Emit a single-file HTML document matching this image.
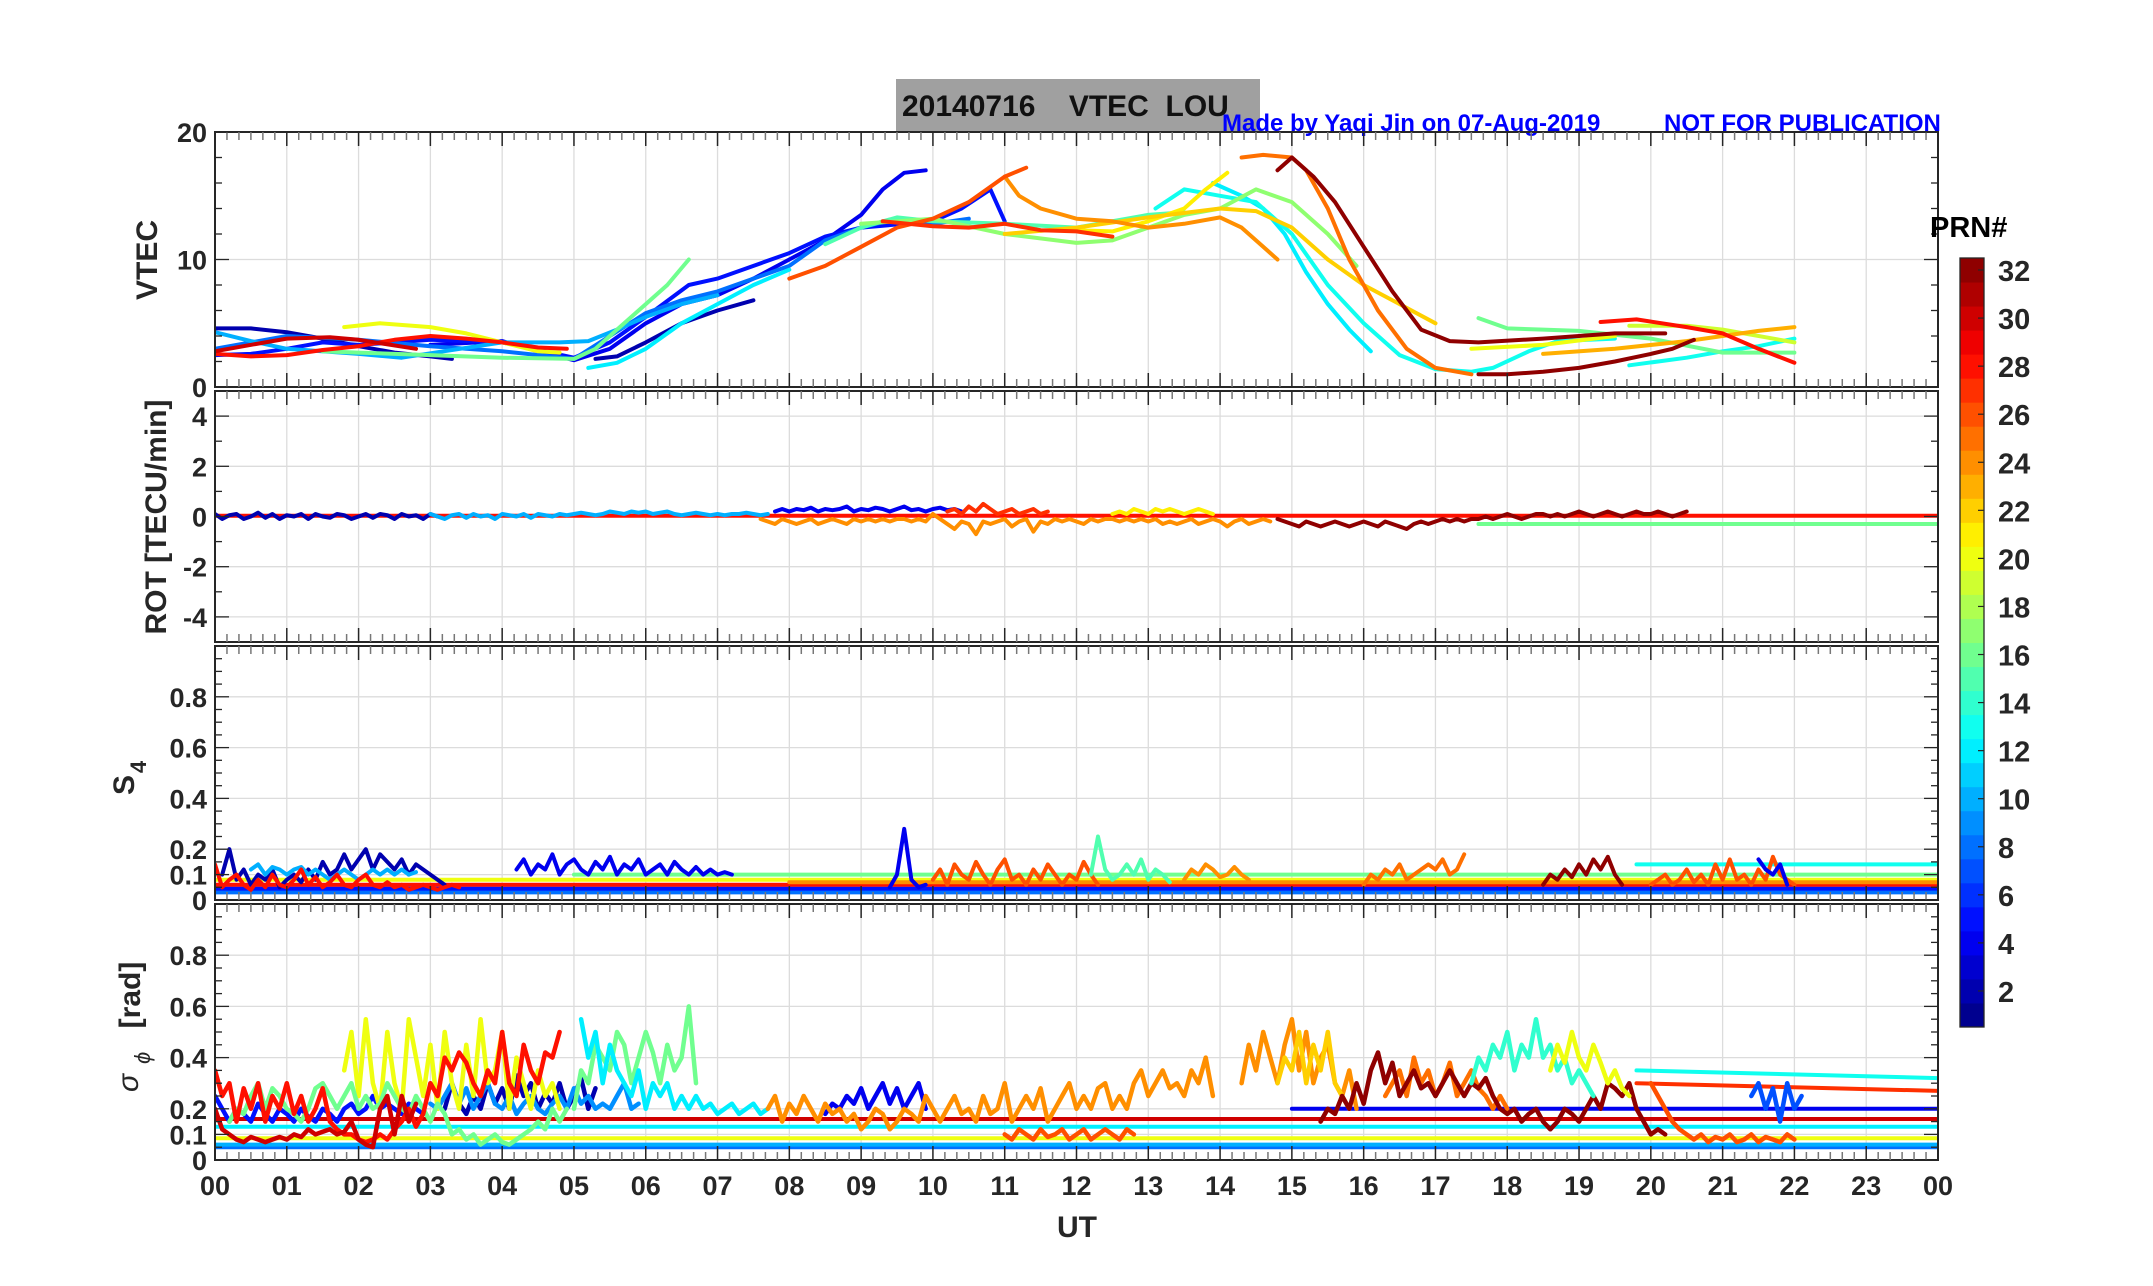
<!DOCTYPE html>
<html><head><meta charset="utf-8">
<style>
html,body{margin:0;padding:0;background:#fff;}
svg{display:block;font-family:"Liberation Sans",sans-serif;}
</style></head>
<body>
<svg id="fig" width="2153" height="1286" viewBox="0 0 2153 1286" xmlns="http://www.w3.org/2000/svg">
<rect x="0" y="0" width="2153" height="1286" fill="#fff"/>
<rect x="896" y="79" width="364" height="53" fill="#a0a0a0"/>
<text x="902" y="116" font-size="30" font-weight="bold" fill="#111" style="white-space:pre">20140716    VTEC  LOU</text>
<text x="1222" y="131" font-size="24" font-weight="bold" fill="#0000ff">Made by Yaqi Jin on 07-Aug-2019</text>
<text x="1664" y="131" font-size="24" font-weight="bold" fill="#0000ff">NOT FOR PUBLICATION</text>
<g id="plots"></g>
</svg>
<script>
// ---------- data ----------
const hourTicks = ["00","01","02","03","04","05","06","07","08","09","10","11","12","13","14","15","16","17","18","19","20","21","22","23","00"];
const vtecTicks = [0,10,20];
const rotTicks = [-4,-2,0,2,4];
const s4Ticks = [0,0.1,0.2,0.4,0.6,0.8];
const sigTicks = [0,0.1,0.2,0.4,0.6,0.8];
const cbTicks = [2,4,6,8,10,12,14,16,18,20,22,24,26,28,30,32];

const vtecSeries = [
 {prn:2, pts:[[0,4.6],[0.5,4.6],[1,4.3],[1.5,3.8],[2,3.2],[2.5,2.7],[3,2.4],[3.3,2.2]]},
 {prn:2, pts:[[5.3,2.2],[5.6,2.4],[6,3.5],[6.5,5],[7,6],[7.5,6.8]]},
 {prn:4, pts:[[3,3.3],[4,3.6],[4.5,2.8],[5,2.1],[5.5,3],[6,5],[6.5,6.5],[7,7.2],[7.5,8.5],[8,10],[8.5,11.5],[9,13.5],[9.3,15.5],[9.6,16.8],[9.9,17]]},
 {prn:5, pts:[[0,2.5],[0.5,2.6],[1,3],[1.5,3.5],[2,3.3],[2.5,3.5],[3,3.7],[4,3.5],[5,2.3],[5.5,3.5],[6,5.5],[6.6,8],[7,8.5],[8,10.5],[8.5,11.8],[9,12.5],[10,13],[10.4,14],[10.8,15.5],[11,13]]},
 {prn:8, pts:[[0,3],[0.5,3.5],[1,4],[2,3.7],[3,3.2],[4,2.8],[5,2.2],[5.5,4],[6,5.8],[6.5,6.8],[7,7.5],[8,9.5],[8.5,11.5],[9,12.5],[9.5,13.2],[10,12.8],[10.5,13.2]]},
 {prn:10, pts:[[0,4.3],[0.5,3.6],[1,3],[2,2.6],[2.6,2.3],[4,3.5],[4.8,3.5],[5.2,3.6],[5.6,4.5],[6,5.5],[6.5,6.5],[7,7.2]]},
 {prn:12, pts:[[5.2,1.5],[5.6,1.9],[6,3],[6.5,5],[7,6.5],[7.5,8],[8,9.2]]},
 {prn:12, pts:[[13.9,16],[14.3,15],[14.6,14],[14.9,12],[15.2,9],[15.5,6.5],[15.8,4.5],[16.1,2.8]]},
 {prn:13, pts:[[13.1,14],[13.5,15.5],[14,15],[14.5,14.5],[15,12],[15.5,8],[16,5],[16.5,2.5],[17,1.4],[17.5,1.2],[17.8,1.5],[18.3,2.8],[18.7,3.6],[19.5,3.8]]},
 {prn:13, pts:[[19.7,1.7],[20.5,2.3],[21,2.8],[21.5,3.2],[22,3.8]]},
 {prn:15, pts:[[8.5,11.2],[9,12.5],[9.5,13.3],[10,13],[11,12.8],[12,12.5],[13,13.5],[13.5,13.7]]},
 {prn:16, pts:[[1.5,2.8],[2,2.7],[3,2.5],[4,2.3],[5,2.2],[5.3,3],[5.6,4.5],[6,6.5],[6.3,8],[6.6,10]]},
 {prn:16, pts:[[17.6,5.4],[18,4.6],[18.5,4.5],[19,4.4],[20,3.8],[21,2.7],[22,2.7]]},
 {prn:17, pts:[[9,12.8],[10,13.2],[11,12],[12,11.3],[12.5,11.5],[13,12.5],[13.5,13.5],[14,14],[14.5,15.5],[15,14.5],[15.5,12],[15.9,9.5]]},
 {prn:19, pts:[[19.7,4.8],[20.5,4.8],[21,4.5],[22,3.5]]},
 {prn:20, pts:[[1.8,4.7],[2.3,5],[3,4.7],[3.5,4.2],[4,3.5],[4.5,2.8],[4.8,2.7]]},
 {prn:20, pts:[[17.5,3],[18.5,3.3],[19.5,4]]},
 {prn:21, pts:[[12,12.3],[12.5,12.2],[13,13],[13.5,14],[13.8,15.5],[14.1,16.8]]},
 {prn:22, pts:[[11,12],[12,12.5],[13,13.3],[14,14],[14.5,13.8],[15,12.5],[15.5,10],[16,8],[16.5,6.5],[17,5]]},
 {prn:23, pts:[[18.5,2.6],[19.5,3],[20.5,3.6],[21.5,4.4],[22,4.7]]},
 {prn:24, pts:[[11,16.5],[11.2,15],[11.5,14],[12,13.2],[12.5,13],[13,12.5],[13.5,12.8],[14,13.3],[14.3,12.5],[14.6,11],[14.8,10]]},
 {prn:25, pts:[[14.3,18],[14.6,18.2],[15,18],[15.2,17],[15.5,14],[15.8,10],[16.2,6],[16.6,3],[17,1.5],[17.5,1]]},
 {prn:26, pts:[[8,8.5],[8.5,9.5],[9,11],[9.5,12.5],[10,13.2],[10.5,14.5],[11,16.5],[11.3,17.2]]},
 {prn:27, pts:[[9.3,13],[10,12.6],[10.5,12.5],[11,12.8],[11.5,12.3],[12,12.2],[12.5,11.8]]},
 {prn:28, pts:[[0,2.6],[0.5,2.4],[1,2.5],[1.5,2.9],[2,3.2],[2.5,3.7],[3,4],[3.5,3.8],[4,3.5],[4.5,3.1],[4.9,3]]},
 {prn:28, pts:[[19.3,5.1],[19.8,5.3],[20.5,4.7],[21,4.2],[21.5,3],[22,1.9]]},
 {prn:30, pts:[[0,2.8],[0.6,3.4],[1,3.8],[1.6,3.9],[2,3.7],[2.8,3]]},
 {prn:32, pts:[[14.8,17],[15,18],[15.3,16.5],[15.6,14.5],[16,11],[16.4,7.5],[16.8,4.5],[17.2,3.6],[17.6,3.5],[18.5,3.8],[19.5,4.2],[20.2,4.2]]},
 {prn:32, pts:[[17.6,1],[18,1],[18.5,1.2],[19,1.5],[19.5,2],[20,2.6],[20.3,3],[20.6,3.7]]}
];

const rotSeries = [
 {prn:2, t0:0, vals:[0.1,-0.1,0.05,0.1,-0.1,0,0.15,-0.05,0.1,-0.1,0.05,0,0.1,-0.1,0.1,0,-0.05,0.1,0.05,-0.1,0,0.1,-0.05,0.1,0.05,-0.1,0.1,0,0.05,-0.1,0.1,0]},
 {prn:10, t0:3, vals:[0.1,0,-0.1,0.05,0.1,-0.05,0.1,0,0.05,-0.1,0.1,0.05,0,0.1,-0.05,0.1,0.05,0,0.1,0.05,0.1,0.15,0.1,0.05,0.1,0.2,0.15,0.1,0.2,0.15,0.2,0.1,0.15,0.2,0.1,0.05,0.1,0.15,0.1,0.05,0.1,0.05,0.1,0.1,0.15,0.1,0.05,0.1]},
 {prn:4, t0:7.8, vals:[0.2,0.3,0.2,0.3,0.25,0.35,0.2,0.3,0.25,0.3,0.4,0.2,0.3,0.25,0.35,0.3,0.2,0.3,0.4,0.25,0.3,0.2,0.3,0.35,0.25,0.3,0.2]},
 {prn:24, t0:7.6, vals:[-0.1,-0.2,-0.3,-0.1,-0.2,-0.3,-0.2,-0.1,-0.3,-0.2,-0.1,-0.2,-0.3,-0.1,-0.2,-0.1,-0.2,-0.1,-0.2,-0.1,-0.1,-0.2,-0.1,-0.2,0.1,-0.1,-0.3,-0.5,-0.2,-0.3,-0.7,-0.2,-0.3,-0.2,-0.1,-0.4,-0.2,-0.1,-0.6,-0.2,-0.3,-0.1,-0.2,-0.1,-0.2,-0.3,-0.1,-0.2,-0.1,-0.1,-0.2,-0.1,-0.2,-0.1,-0.2,-0.1,-0.3,-0.2,-0.3,-0.2,-0.1,-0.3,-0.2,-0.1,-0.2,-0.4,-0.2,-0.1,-0.3,-0.2,-0.1,-0.2]},
 {prn:27, t0:10.2, vals:[0.2,0.3,0.1,0.4,0.2,0.5,0.3,0.1,0.2,0.3,0.1,0.2,0.3,0.1,0.2]},
 {prn:21, t0:12.5, vals:[0.1,0.2,0.1,0.3,0.2,0.1,0.3,0.2,0.3,0.2,0.1,0.2,0.3,0.2,0.1]},
 {prn:32, t0:14.8, vals:[-0.1,-0.2,-0.3,-0.4,-0.2,-0.3,-0.4,-0.3,-0.2,-0.3,-0.4,-0.3,-0.2,-0.3,-0.4,-0.2,-0.3,-0.4,-0.5,-0.3,-0.2,-0.3,-0.2,-0.1,-0.2,-0.1,-0.2,-0.1,-0.1,0,-0.1,0,0.1,0,-0.1,0,0.1,0.1,0,0.1,0,0.1,0.2,0.1,0,0.1,0.2,0.1,0,0.1,0.2,0.1,0.1,0.2,0.1,0,0.1,0.2]}
];
const rotLines = [
 {prn:16, t0:17.6, t1:24, v0:-0.3, v1:-0.3},
 {prn:28, t0:0, t1:24, v0:0.03, v1:0.03}
];

const s4Lines = [
 {prn:8, t0:0, t1:24, v0:0.03, v1:0.03},
 {prn:5, t0:0, t1:24, v0:0.045, v1:0.045},
 {prn:28, t0:0, t1:24, v0:0.06, v1:0.06},
 {prn:20, t0:0, t1:24, v0:0.08, v1:0.08},
 {prn:24, t0:8, t1:24, v0:0.07, v1:0.07},
 {prn:16, t0:5, t1:24, v0:0.1, v1:0.1},
 {prn:13, t0:19.8, t1:24, v0:0.14, v1:0.14}
];
const s4Series = [
 {prn:2, t0:0.1, vals:[0.1,0.2,0.08,0.12,0.06,0.1,0.08,0.12,0.05,0.08,0.1,0.07,0.12,0.08,0.15,0.1,0.12,0.18,0.12,0.16,0.2,0.12,0.18,0.15,0.12,0.16,0.1,0.14,0.12,0.1,0.08,0.06]},
 {prn:4, t0:4.2, vals:[0.12,0.16,0.1,0.14,0.12,0.18,0.1,0.14,0.16,0.12,0.1,0.15,0.12,0.17,0.1,0.14,0.12,0.16,0.1,0.12,0.14,0.1,0.15,0.12,0.1,0.13,0.1,0.12,0.1,0.11,0.1]},
 {prn:10, t0:0.5, vals:[0.12,0.14,0.1,0.13,0.12,0.1,0.12,0.13,0.1,0.12,0.1,0.08,0.1,0.12,0.1,0.08,0.1,0.12,0.1,0.12,0.1,0.12,0.1,0.11]},
 {prn:4, t0:9.4, vals:[0.05,0.1,0.28,0.08,0.05,0.06]},
 {prn:28, t0:0, vals:[0.14,0.05,0.08,0.1,0.06,0.04,0.08,0.05,0.1,0.06,0.05,0.08,0.12,0.06,0.09,0.05,0.07,0.1,0.06,0.05,0.08,0.1,0.06,0.05,0.07,0.05,0.06,0.04,0.05,0.06,0.05,0.04,0.05,0.06,0.05]},
 {prn:26, t0:10, vals:[0.08,0.12,0.06,0.14,0.1,0.08,0.15,0.1,0.06,0.12,0.16,0.08,0.1,0.06,0.12,0.08,0.14,0.1,0.06,0.1,0.08,0.15,0.1,0.06]},
 {prn:15, t0:12.2, vals:[0.1,0.25,0.12,0.08,0.1,0.14,0.1,0.16,0.08,0.12,0.1,0.07]},
 {prn:24, t0:13.5, vals:[0.08,0.12,0.1,0.14,0.12,0.09,0.1,0.13,0.1,0.08]},
 {prn:25, t0:16, vals:[0.06,0.1,0.08,0.12,0.1,0.14,0.08,0.1,0.12,0.14,0.12,0.16,0.1,0.12,0.18]},
 {prn:32, t0:18.5, vals:[0.06,0.1,0.08,0.12,0.09,0.14,0.1,0.16,0.12,0.17,0.1,0.06]},
 {prn:26, t0:20, vals:[0.06,0.08,0.1,0.06,0.08,0.12,0.07,0.1,0.06,0.14,0.08,0.16,0.08,0.1,0.06,0.12,0.08,0.17,0.1,0.08,0.06]},
 {prn:4, t0:21.5, vals:[0.16,0.12,0.1,0.14,0.06]}
];

const sigLines = [
 {prn:8, t0:0, t1:24, v0:0.05, v1:0.05},
 {prn:10, t0:0, t1:24, v0:0.06, v1:0.06},
 {prn:20, t0:0, t1:24, v0:0.085, v1:0.085},
 {prn:12, t0:0, t1:24, v0:0.13, v1:0.13},
 {prn:30, t0:0, t1:24, v0:0.16, v1:0.16},
 {prn:4, t0:15, t1:24, v0:0.2, v1:0.2},
 {prn:13, t0:19.8, t1:24, v0:0.35, v1:0.32},
 {prn:27, t0:19.8, t1:24, v0:0.3, v1:0.27}
];
const sigSeries = [
 {prn:2, t0:3.2, vals:[0.2,0.3,0.22,0.18,0.25,0.2,0.3,0.22,0.28,0.2,0.33,0.25,0.3,0.2,0.26,0.22,0.3,0.2,0.25,0.32,0.2,0.28]},
 {prn:5, t0:0, vals:[0.25,0.2,0.15,0.2,0.18,0.15,0.22,0.18,0.15,0.2,0.18,0.15,0.2,0.17,0.15,0.2,0.18,0.15,0.2,0.22,0.18,0.2,0.25,0.2,0.22,0.2,0.18,0.22,0.2,0.18]},
 {prn:9, t0:3, vals:[0.22,0.2,0.25,0.3,0.22,0.28,0.2,0.25,0.3,0.22,0.2,0.25,0.18,0.22,0.25,0.2,0.18,0.22,0.25,0.2,0.28,0.22,0.25,0.2,0.22,0.2,0.25,0.3,0.2,0.22]},
 {prn:20, t0:1.8, vals:[0.35,0.5,0.25,0.55,0.3,0.2,0.5,0.3,0.2,0.55,0.4,0.25,0.45,0.2,0.5,0.3,0.2,0.45,0.25,0.55,0.3,0.35,0.5,0.2,0.4,0.3,0.2,0.35,0.25,0.3,0.2]},
 {prn:16, t0:0.2, vals:[0.15,0.2,0.18,0.25,0.3,0.2,0.28,0.25,0.2,0.18,0.15,0.2,0.28,0.3,0.25,0.2,0.25,0.3,0.2,0.25,0.2,0.22,0.3,0.25,0.2,0.18,0.25,0.2,0.15,0.22,0.18,0.1,0.12,0.08,0.1,0.06,0.08,0.1,0.07,0.06,0.08,0.1,0.12,0.15,0.12,0.2,0.15,0.2]},
 {prn:16, t0:5, vals:[0.2,0.35,0.3,0.45,0.4,0.35,0.5,0.45,0.3,0.4,0.5,0.42,0.3,0.45,0.35,0.4,0.6,0.3]},
 {prn:12, t0:5.1, vals:[0.55,0.4,0.5,0.3,0.45,0.35,0.3,0.25,0.35,0.2,0.3,0.25,0.3,0.2,0.25,0.2,0.25,0.2,0.22,0.18,0.2,0.22,0.18,0.2,0.22,0.18,0.2]},
 {prn:28, t0:0, vals:[0.35,0.25,0.3,0.15,0.28,0.2,0.3,0.15,0.25,0.2,0.3,0.18,0.25,0.15,0.2,0.28,0.15,0.12,0.1,0.1,0.08,0.07,0.08,0.1,0.08,0.12,0.15,0.2,0.13,0.18,0.3,0.25,0.4,0.35,0.42,0.38,0.3,0.25,0.35,0.3,0.5,0.3,0.25,0.45,0.35,0.3,0.42,0.4,0.5]},
 {prn:30, t0:0, vals:[0.2,0.12,0.1,0.08,0.07,0.09,0.08,0.07,0.08,0.09,0.08,0.1,0.09,0.12,0.1,0.11,0.12,0.1,0.11,0.15,0.08,0.06,0.05,0.2,0.25,0.1,0.25,0.15,0.22]},
 {prn:4, t0:8.5, vals:[0.18,0.22,0.2,0.25,0.22,0.28,0.2,0.25,0.3,0.22,0.28,0.2,0.25,0.3,0.2]},
 {prn:24, t0:7.7, vals:[0.2,0.25,0.15,0.22,0.18,0.25,0.2,0.15,0.22,0.18,0.2,0.15,0.18,0.12,0.15,0.2,0.18,0.12,0.15,0.2,0.18,0.15,0.25,0.2,0.15,0.2,0.25,0.18,0.2,0.15,0.25,0.18,0.2,0.3,0.15,0.2,0.25,0.2,0.28,0.15,0.2,0.25,0.3,0.2,0.25,0.2,0.28,0.3,0.2,0.25,0.2,0.3,0.35,0.25,0.3,0.35,0.28,0.3,0.25,0.35,0.3,0.4,0.25]},
 {prn:26, t0:11, vals:[0.1,0.08,0.12,0.1,0.08,0.12,0.09,0.1,0.12,0.08,0.1,0.12,0.08,0.1,0.12,0.1,0.08,0.12,0.1]},
 {prn:24, t0:14.3, vals:[0.3,0.45,0.35,0.5,0.4,0.3,0.45,0.55,0.35,0.5,0.3,0.4,0.45,0.3,0.25,0.35,0.2]},
 {prn:22, t0:14.8, vals:[0.3,0.4,0.35,0.5,0.3,0.45,0.35,0.5,0.3,0.25,0.2]},
 {prn:25, t0:16.3, vals:[0.25,0.3,0.35,0.25,0.4,0.3,0.35,0.25,0.3,0.38,0.25,0.3,0.35,0.28,0.25,0.2,0.25,0.2]},
 {prn:32, t0:15.4, vals:[0.15,0.2,0.18,0.25,0.2,0.3,0.22,0.35,0.42,0.3,0.38,0.25,0.3,0.35,0.28,0.3,0.25,0.3,0.35,0.3,0.25,0.3,0.28,0.32,0.25,0.2,0.18,0.2,0.15,0.18,0.2,0.15,0.12,0.15,0.2,0.18,0.15,0.2,0.25,0.2,0.3,0.28,0.25,0.3,0.2,0.15,0.1,0.12,0.1]},
 {prn:14, t0:17.5, vals:[0.3,0.4,0.35,0.45,0.4,0.5,0.35,0.45,0.4,0.55,0.4,0.45,0.35,0.4,0.3,0.35,0.3,0.25]},
 {prn:20, t0:18.6, vals:[0.35,0.45,0.38,0.5,0.4,0.35,0.45,0.38,0.3,0.35,0.28,0.25]},
 {prn:26, t0:20, vals:[0.3,0.25,0.2,0.15,0.12,0.1,0.08,0.1,0.07,0.09,0.08,0.1,0.07,0.08,0.1,0.07,0.09,0.08,0.07,0.1,0.08]},
 {prn:7, t0:21.4, vals:[0.25,0.3,0.2,0.28,0.15,0.3,0.2,0.25]}
];

// ---------- layout ----------
const L = 215, R = 1938;
const panels = [
 {name:"vtec", top:132, bot:387, min:0, max:20, ticks:vtecTicks, minor:2},
 {name:"rot", top:391, bot:642, min:-5, max:5, ticks:rotTicks, minor:1},
 {name:"s4", top:646, bot:900, min:0, max:1, ticks:s4Ticks, minor:0.05},
 {name:"sigma", top:904, bot:1160, min:0, max:1, ticks:sigTicks, minor:0.05}
];
const NS = "http://www.w3.org/2000/svg";
const root = document.getElementById("plots");
function mk(tag, attrs, parent){const e=document.createElementNS(NS,tag);for(const k in attrs)e.setAttribute(k,attrs[k]);(parent||root).appendChild(e);return e;}
const xs = h => L + (R-L)*h/24;
function ysFor(p){return v => p.bot - (p.bot-p.top)*(v-p.min)/(p.max-p.min);}
function jet(prn){const v=(prn-0.5)/32;const c=x=>Math.round(255*Math.max(0,Math.min(1,x)));
 return `rgb(${c(1.5-Math.abs(4*v-3))},${c(1.5-Math.abs(4*v-2))},${c(1.5-Math.abs(4*v-1))})`;}
function fmt(v){return String(v);}

const defs = mk("defs",{});
panels.forEach((p,i)=>{
 const cp = mk("clipPath",{id:"clip"+i},defs);
 mk("rect",{x:L,y:p.top,width:R-L,height:p.bot-p.top},cp);
 const ys = ysFor(p);
 const g = mk("g",{});
 
 
 for(let h=1;h<24;h++){const ln=mk("line",{x1:xs(h),x2:xs(h),y1:p.top,y2:p.bot,stroke:"#dcdcdc","stroke-width":1.3},g);
  }
 p.ticks.forEach(t=>{if(t>p.min&&t<p.max){const ln=mk("line",{x1:L,x2:R,y1:ys(t),y2:ys(t),stroke:"#dcdcdc","stroke-width":1.3},g);
  }});
 p.g = g; p.ys = ys;
 p.dg = mk("g",{"clip-path":"url(#clip"+i+")"},g);
 
 
});

function drawPath(p, pts, prn, w){
 const d = pts.map((q,i)=>(i?"L":"M")+xs(q[0]).toFixed(1)+","+p.ys(q[1]).toFixed(1)).join("");
 const e = mk("path",{d:d,fill:"none",stroke:jet(prn),"stroke-width":w,"stroke-linejoin":"round","stroke-linecap":"round"},p.dg);
 
 
}
function noisyPts(s){return s.vals.map((v,i)=>[s.t0+0.1*i, v]);}

vtecSeries.forEach(s=>drawPath(panels[0], s.pts, s.prn, 4));
rotLines.forEach(s=>drawPath(panels[1], [[s.t0,s.v0],[s.t1,s.v1]], s.prn, 4));
rotSeries.forEach(s=>drawPath(panels[1], noisyPts(s), s.prn, 4));
s4Lines.forEach(s=>drawPath(panels[2], [[s.t0,s.v0],[s.t1,s.v1]], s.prn, 4));
s4Series.forEach(s=>drawPath(panels[2], noisyPts(s), s.prn, 4));
sigLines.forEach(s=>drawPath(panels[3], [[s.t0,s.v0],[s.t1,s.v1]], s.prn, 4));
sigSeries.forEach(s=>drawPath(panels[3], noisyPts(s), s.prn, 4.5));

panels.forEach(p=>{
 const g=p.g, ys=p.ys;
 const fr=mk("rect",{x:L,y:p.top,width:R-L,height:p.bot-p.top,fill:"none",stroke:"#262626","stroke-width":2},g);
 
 for(let m=0;m<=144;m++){const h=m/6,x=xs(h),len=(m%6===0)?14:8,col=(m%6===0)?"#262626":"#777";
  mk("line",{x1:x,x2:x,y1:p.top,y2:p.top+len,stroke:col,"stroke-width":1.5},g);
  mk("line",{x1:x,x2:x,y1:p.bot,y2:p.bot-len,stroke:col,"stroke-width":1.5},g);}
 for(let v=p.min;v<=p.max+1e-9;v+=p.minor){const y=ys(v);const maj=p.ticks.some(t=>Math.abs(t-v)<1e-6);
  mk("line",{x1:L,x2:L+(maj?14:7),y1:y,y2:y,stroke:"#262626","stroke-width":1.3},g);
  mk("line",{x1:R,x2:R-(maj?14:7),y1:y,y2:y,stroke:"#262626","stroke-width":1.3},g);}
 p.ticks.forEach(t=>{const tx=mk("text",{x:L-8,y:ys(t)+10,"text-anchor":"end","font-size":27,"font-weight":"bold",fill:"#262626"},g);
  tx.textContent=fmt(t);});
});

function ylab(txt,x,y,name,fs){const t=mk("text",{x:0,y:0,transform:`translate(${x},${y}) rotate(-90)`,"text-anchor":"middle","font-size":fs||30,"font-weight":"bold",fill:"#262626"});t.textContent=txt;
 return t;}
ylab("VTEC",157,260,"vtec-axis-title");
ylab("ROT [TECU/min]",166,517,"rot-axis-title");
ylab("S",134,785,"s4-axis-title");
const s4s=mk("text",{x:0,y:0,transform:"translate(146,767) rotate(-90)","text-anchor":"middle","font-size":22,"font-weight":"bold",fill:"#262626"});s4s.textContent="4";

const sgt=mk("text",{x:0,y:0,transform:"translate(138,1092) rotate(-90)","font-size":30,"font-style":"italic",fill:"#262626"});sgt.textContent="σ";

const sgs=mk("text",{x:0,y:0,transform:"translate(150,1064) rotate(-90)","font-size":22,"font-style":"italic",fill:"#262626"});sgs.textContent="ϕ";

ylab("[rad]",140,995,"sigma-unit-title");

hourTicks.forEach((lab,i)=>{const t=mk("text",{x:xs(i),y:1195,"text-anchor":"middle","font-size":27,"font-weight":"bold",fill:"#262626"});t.textContent=lab;
 });
const ut=mk("text",{x:1077,y:1237,"text-anchor":"middle","font-size":30,"font-weight":"bold",fill:"#262626"});ut.textContent="UT";


const cbX=1960, cbW=24, cbTop=258, cbBot=1027;
const cb=mk("g",{});
const cbY = v => cbBot - (cbBot-cbTop)*(v-0.5)/32;
for(let k=1;k<=32;k++){mk("rect",{x:cbX,y:cbY(k+0.5),width:cbW,height:(cbBot-cbTop)/32+0.5,fill:jet(k)},cb);}
mk("rect",{x:cbX,y:cbTop,width:cbW,height:cbBot-cbTop,fill:"none",stroke:"#262626","stroke-width":1.3},cb);
cbTicks.forEach(v=>{const y=cbY(v);mk("line",{x1:cbX+cbW-6,x2:cbX+cbW,y1:y,y2:y,stroke:"#262626","stroke-width":1.2},cb);
 const t=mk("text",{x:1998,y:y+11,"font-size":29,"font-weight":"bold",fill:"#262626"},cb);t.textContent=v;
 });
const prnT=mk("text",{x:1930,y:237,"font-size":29,"font-weight":"bold",fill:"#000"});prnT.textContent="PRN#";

</script>
</body></html>
